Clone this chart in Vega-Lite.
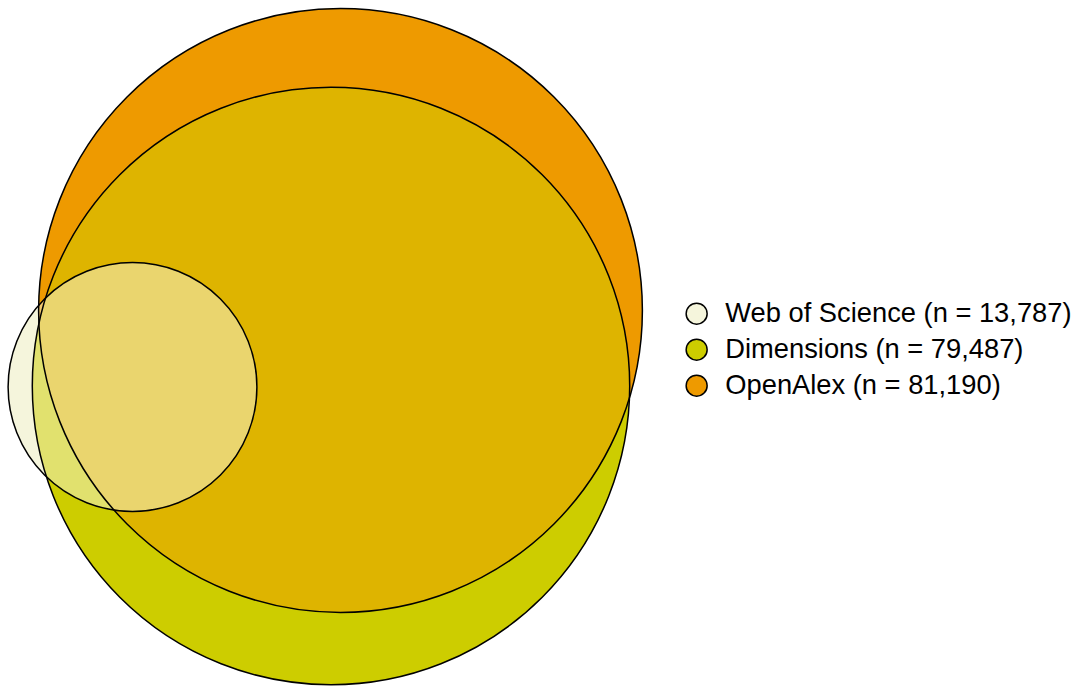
{
  "$schema": "https://vega.github.io/schema/vega-lite/v6.json",
  "width": 1083,
  "height": 690,
  "padding": 0,
  "autosize": {"type": "fit", "contains": "padding"},
  "background": "white",
  "config": {"view": {"stroke": null}},
  "data": {
    "values": [
      {"set": "Web of Science", "label": "Web of Science (n = 13,787)", "n": 13787, "cx": 132.5, "cy": 387},
      {"set": "Dimensions", "label": "Dimensions (n = 79,487)", "n": 79487, "cx": 331, "cy": 386},
      {"set": "OpenAlex", "label": "OpenAlex (n = 81,190)", "n": 81190, "cx": 340.5, "cy": 310.5}
    ]
  },
  "encoding": {
    "x": {"field": "cx", "type": "quantitative", "scale": {"domain": [0, 1083], "nice": false, "zero": false}, "axis": null},
    "y": {"field": "cy", "type": "quantitative", "scale": {"domain": [0, 690], "nice": false, "zero": false, "reverse": true}, "axis": null},
    "size": {"field": "n", "type": "quantitative", "scale": {"type": "linear", "domain": [0, 100000], "range": [0, 449000], "zero": true}, "legend": null}
  },
  "layer": [
    {
      "mark": {"type": "point", "shape": "circle", "filled": true, "opacity": 1, "strokeWidth": 0},
      "encoding": {
        "fill": {
          "field": "label", "type": "nominal",
          "scale": {"domain": ["Web of Science (n = 13,787)", "Dimensions (n = 79,487)", "OpenAlex (n = 81,190)"], "range": ["#F5F5DC", "#CDCD00", "#EE9A00"]},
          "legend": {
            "title": null,
            "orient": "none",
            "legendX": 683,
            "legendY": 300,
            "symbolType": "circle",
            "symbolSize": 441,
            "symbolStrokeColor": "black",
            "symbolStrokeWidth": 1.5,
            "symbolOpacity": 1,
            "labelFont": "Liberation Sans",
            "labelFontSize": 27.3,
            "labelColor": "black",
            "labelOffset": 15,
            "labelLimit": 500,
            "rowPadding": 7
          }
        }
      }
    },
    {
      "transform": [{"filter": "datum.set === 'Dimensions'"}],
      "mark": {"type": "point", "shape": "circle", "filled": true, "opacity": 0.5, "strokeWidth": 0, "fill": "#CDCD00"}
    },
    {
      "transform": [{"filter": "datum.set === 'Web of Science'"}],
      "mark": {"type": "point", "shape": "circle", "filled": true, "opacity": 0.5, "strokeWidth": 0, "fill": "#F5F5DC"}
    },
    {
      "mark": {"type": "point", "shape": "circle", "filled": false, "opacity": 1, "stroke": "black", "strokeWidth": 1.5}
    }
  ]
}
